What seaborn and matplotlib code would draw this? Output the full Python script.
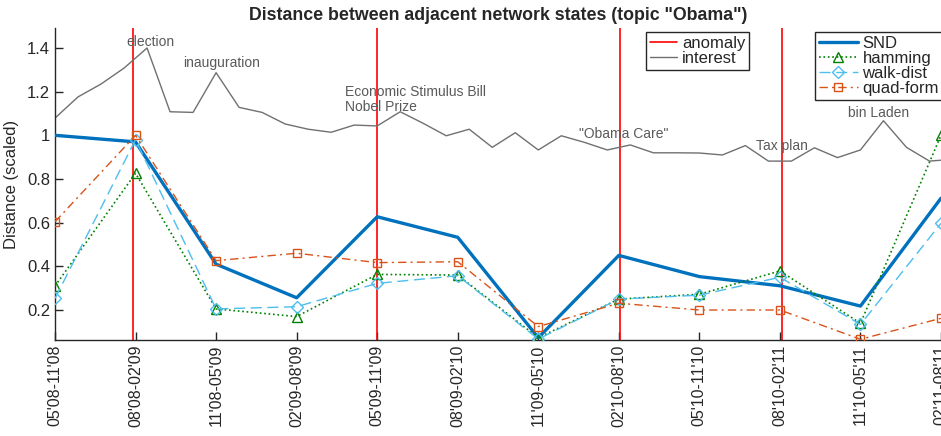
import numpy as np
import pandas as pd
import matplotlib
matplotlib.use("Agg")
import matplotlib.pyplot as plt
import seaborn as sns

# 6-month windows, shifted by 3 months
periods = ["05'08-11'08", "08'08-02'09", "11'08-05'09", "02'09-08'09",
           "05'09-11'09", "08'09-02'10", "11'09-05'10", "02'10-08'10",
           "05'10-11'10", "08'10-02'11", "11'10-05'11", "02'11-08'11"]

snd = [1.00, 0.97, 0.41, 0.256, 0.627, 0.533, 0.073, 0.45, 0.353, 0.311, 0.218, 0.712]
hamming = [0.31, 0.826, 0.205, 0.17, 0.363, 0.36, 0.073, 0.25, 0.272, 0.379, 0.139, 1.0]
walk_dist = [0.253, 0.98, 0.205, 0.215, 0.322, 0.357, 0.067, 0.25, 0.268, 0.35, 0.134, 0.597]
quad_form = [0.604, 1.0, 0.426, 0.46, 0.417, 0.421, 0.124, 0.231, 0.2, 0.2, 0.066, 0.162]

# search interest (scaled), finer sampling than the network windows
interest = [1.079, 1.176, 1.235, 1.308, 1.400, 1.108, 1.105, 1.287, 1.128, 1.105,
            1.052, 1.028, 1.014, 1.047, 1.043, 1.108, 1.055, 0.998, 1.028, 0.945,
            1.012, 0.933, 0.998, 0.968, 0.933, 0.956, 0.920, 0.920, 0.919, 0.910,
            0.953, 0.882, 0.882, 0.943, 0.898, 0.933, 1.067, 0.945, 0.882, 0.890]
interest_step = 2 / 7  # interest samples per window index

anomalies = [0.965, 4.0, 7.02, 9.02]

events = ["election", "inauguration", "Economic Stimulus Bill", "Nobel Prize",
          "\"Obama Care\"", "Tax plan", "bin Laden"]
event_x = [0.88, 1.59, 3.60, 3.60, 6.51, 8.70, 9.85]
event_y = [1.429, 1.330, 1.200, 1.131, 1.006, 0.953, 1.101]

sns.set_style("ticks")
plt.rcParams["font.family"] = ["Liberation Sans", "DejaVu Sans"]

fig = plt.figure(figsize=(9.41, 4.36), dpi=100)
ax = fig.add_axes([55 / 941, 1 - 340 / 436, 1 - 55 / 941, (340 - 28) / 436])

xi = np.arange(len(periods))
xint = np.arange(len(interest)) * interest_step

for a in anomalies:
    ax.axvline(a, color="#ff0000", lw=1.2, zorder=1)
h_anom = plt.Line2D([], [], color="#ff0000", lw=1.2)

df_int = pd.DataFrame({"x": xint, "interest": interest})
sns.lineplot(data=df_int, x="x", y="interest", ax=ax, color="#707070", lw=1.0,
             zorder=2, legend=False)
h_int = plt.Line2D([], [], color="#707070", lw=1.0)

for txt, tx, ty in zip(events, event_x, event_y):
    ax.text(tx, ty, txt, ha="left", va="center", fontsize=10, color="#5a5a5a")

series = [
    ("SND", snd, dict(color="#0072BD", lw=2.4, linestyle="-", marker=None)),
    ("hamming", hamming, dict(color="#008000", lw=1.2, linestyle=":", marker="^",
                              markersize=7)),
    ("walk-dist", walk_dist, dict(color="#4DBEEE", lw=1.0, linestyle=(0, (8, 4)),
                                  marker="D", markersize=6)),
    ("quad-form", quad_form, dict(color="#D95319", lw=1.0, linestyle=(0, (6, 3, 1.5, 3)),
                                  marker="s", markersize=6)),
]
handles = []
for name, vals, st in series:
    c = st.pop("color")
    marker = st.pop("marker")
    mk = {}
    if marker is not None:
        mk = dict(marker=marker, markerfacecolor="none", markeredgecolor=c,
                  markeredgewidth=1.0)
    sns.lineplot(x=xi, y=vals, ax=ax, color=c, zorder=3, legend=False, **st, **mk)
    handles.append(plt.Line2D([], [], color=c, **st, **mk))

ax.set_xlim(0, 11)
ax.set_ylim(0.0626, 1.4916)
ax.set_xticks(xi)
ax.set_xticklabels(periods, rotation=90, fontsize=11.5)
ax.set_yticks([0.2, 0.4, 0.6, 0.8, 1.0, 1.2, 1.4])
ax.set_yticklabels(["0.2", "0.4", "0.6", "0.8", "1", "1.2", "1.4"], fontsize=12)
ax.tick_params(direction="in", length=6, width=1, color="#262626", labelcolor="#262626")
for s in ["top", "right"]:
    ax.spines[s].set_visible(False)
for s in ["left", "bottom"]:
    ax.spines[s].set_color("#262626")
    ax.spines[s].set_linewidth(1.0)
ax.set_xlabel("")
ax.set_ylabel("Distance (scaled)", fontsize=12, color="#262626", labelpad=6)
ax.set_title("Distance between adjacent network states (topic \"Obama\")",
             fontsize=12.8, fontweight="bold", pad=6)

leg_kw = dict(loc="upper left", bbox_transform=fig.transFigure, frameon=True,
              fancybox=False, shadow=False, framealpha=1, edgecolor="#262626",
              fontsize=12, labelspacing=0.0, borderpad=0.25, handletextpad=0.3,
              borderaxespad=0)
leg1 = fig.legend([h_anom, h_int], ["anomaly", "interest"],
                  bbox_to_anchor=(646 / 941, 1 - 32 / 436), handlelength=1.6, **leg_kw)
leg2 = fig.legend(handles, ["SND", "hamming", "walk-dist", "quad-form"],
                  bbox_to_anchor=(815 / 941, 1 - 32 / 436), handlelength=2.3, **leg_kw)
for lg in (leg1, leg2):
    lg.get_frame().set_linewidth(1.0)

fig.savefig("out.png", dpi=100)
